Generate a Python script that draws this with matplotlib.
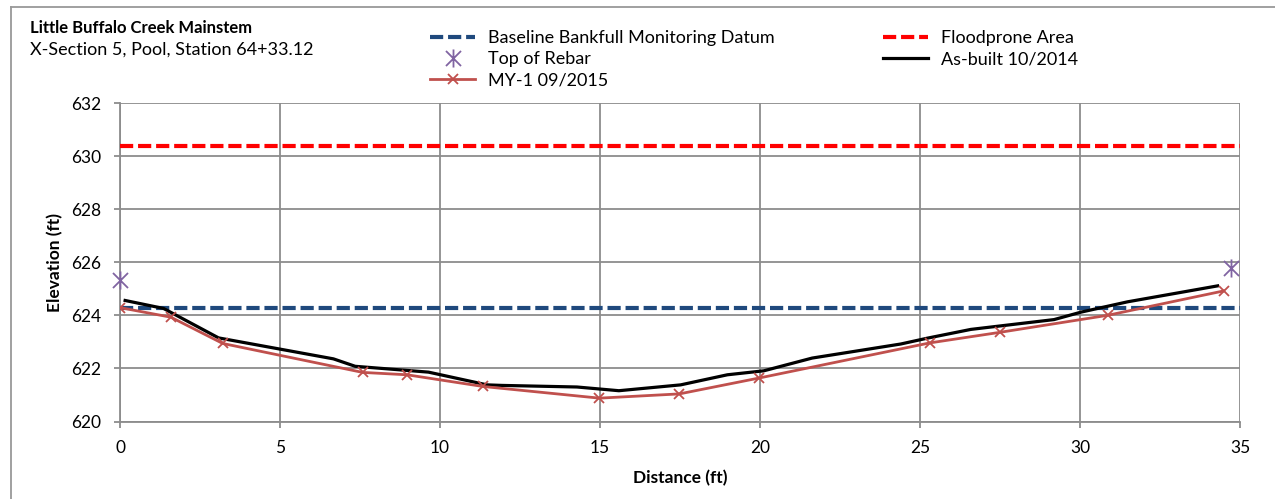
import numpy as np
import matplotlib.pyplot as plt
from matplotlib.path import Path
from matplotlib.lines import Line2D

plt.rcParams['font.family'] = ['Lato', 'DejaVu Sans']
plt.rcParams['lines.scale_dashes'] = False

# Survey data (elevations in ft)
dist_asbuilt = [0.16, 1.36, 3.08, 6.67, 7.35, 9.64, 11.47, 11.93, 14.28, 15.59,
                17.52, 18.98, 20.12, 21.63, 24.40, 25.23, 26.59, 29.19, 30.03,
                31.49, 34.30]
elev_asbuilt = [624.56, 624.26, 623.15, 622.36, 622.08, 621.86, 621.38, 621.36,
                621.30, 621.16, 621.38, 621.76, 621.91, 622.39, 622.92, 623.14,
                623.47, 623.84, 624.12, 624.51, 625.11]

dist_my1 = [0.0, 1.59, 3.21, 7.58, 8.97, 11.34, 14.98, 17.48, 19.98, 25.30,
            27.50, 30.86, 34.49]
elev_my1 = [624.29, 623.93, 622.94, 621.85, 621.76, 621.32, 620.88, 621.04,
            621.64, 622.96, 623.36, 624.00, 624.92]

dist_rebar = [0.0, 34.72]
elev_rebar = [625.33, 625.77]

bankfull_elev = 624.26
floodprone_elev = 630.37
x_range = [0, 35]

blue = '#1F497D'
red = '#FF0000'
rose = '#C0504D'
purple = '#8064A2'
grid_gray = '#8C8C8C'
fs = 12.5

# Excel-style star marker: an X with a vertical bar
star = Path([(-1, -1), (1, 1), (-1, 1), (1, -1), (0, -1.2), (0, 1.2)],
            [Path.MOVETO, Path.LINETO, Path.MOVETO, Path.LINETO, Path.MOVETO, Path.LINETO])

fig = plt.figure(figsize=(12.75, 4.99), dpi=100)
ax = fig.add_axes([120 / 1275, 1 - 421.5 / 499, 1120 / 1275, 318.5 / 499])

ax.plot(x_range, [bankfull_elev] * 2, color=blue, lw=3, dashes=(9.5, 3.5),
        label='Baseline Bankfull Monitoring Datum', zorder=3)
ax.plot(dist_rebar, elev_rebar, ls='none', marker=star, ms=13, mew=1.3,
        color=purple, label='Top of Rebar', clip_on=False, zorder=5)
ax.plot(dist_my1, elev_my1, color=rose, lw=2, marker='x', ms=7, mew=1.3,
        label='MY-1 09/2015', zorder=4)
ax.plot(x_range, [floodprone_elev] * 2, color=red, lw=3, dashes=(9.5, 3.5),
        label='Floodprone Area', zorder=3)
ax.plot(dist_asbuilt, elev_asbuilt, color='black', lw=2.3,
        label='As-built 10/2014', zorder=3)

ax.set_xlim(0, 35)
ax.set_ylim(620, 632)
ax.set_xticks(np.arange(0, 36, 5))
ax.set_yticks(np.arange(620, 633, 2))
ax.grid(True, color=grid_gray, lw=1.3)
ax.set_axisbelow(True)
for side in ['left', 'bottom', 'right', 'top']:
    ax.spines[side].set_color(grid_gray)
    ax.spines[side].set_linewidth(1.3)
ax.spines['top'].set_visible(False)
ax.spines['right'].set_visible(False)
ax.tick_params(direction='out', length=4.5, width=1.3, color=grid_gray,
               labelsize=fs, labelcolor='black')
ax.tick_params(axis='y', pad=9)
ax.tick_params(axis='x', pad=9)

ax.set_xlabel('Distance (ft)', fontsize=fs, fontweight='bold', labelpad=10)
ax.set_ylabel('Elevation (ft)', fontsize=fs, fontweight='bold', labelpad=6)

fig.text(30 / 1275, 1 - 28 / 499, 'Little Buffalo Creek Mainstem', fontsize=12,
         fontweight='bold', va='center', ha='left')
fig.text(30 / 1275, 1 - 50 / 499, 'X-Section 5, Pool, Station 64+33.12', fontsize=13,
         va='center', ha='left')

fig.legend(loc='upper left', bbox_to_anchor=(430 / 1275, 1 - 30 / 499), ncol=2,
           frameon=False, fontsize=13, handlelength=2.5, handletextpad=0.72,
           labelspacing=0.28, columnspacing=6.0, borderaxespad=0, borderpad=0)

# outer chart border
fig.add_artist(Line2D([11 / 1275, 11 / 1275], [0, 1 - 7 / 499], color='#999999', lw=1.3))
fig.add_artist(Line2D([11 / 1275, 1], [1 - 7 / 499, 1 - 7 / 499], color='#999999', lw=1.3))

fig.savefig('out.png', dpi=100)
